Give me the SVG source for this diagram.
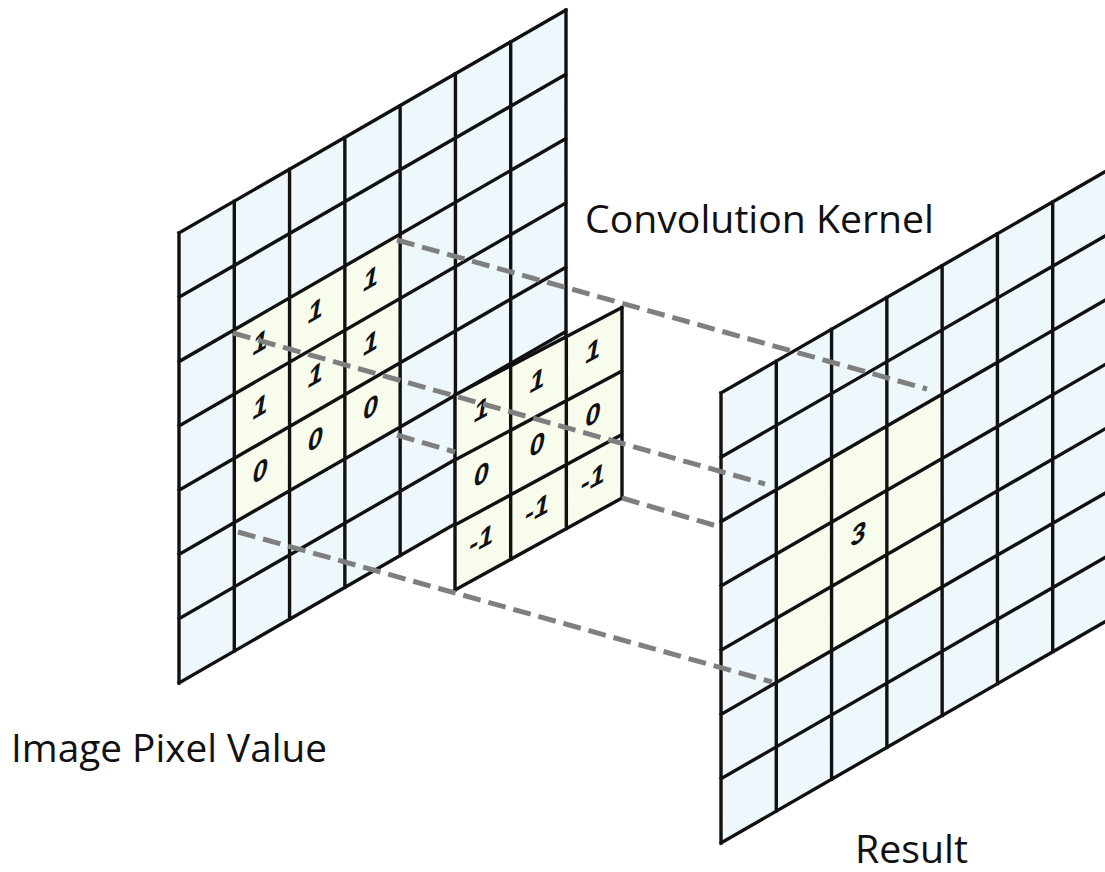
<svg xmlns="http://www.w3.org/2000/svg" width="1105" height="872" viewBox="0 0 1105 872">
<style>
.bg{fill:#ffffff}
.cell{fill:#EEF8FC}
.hl{fill:#F8FCEC}
.grid{fill:none;stroke:#111111;stroke-width:3.4;stroke-linejoin:miter;stroke-linecap:square}
.ns{vector-effect:non-scaling-stroke}
.dash{fill:none;stroke:#7F7F7F;stroke-width:5;stroke-dasharray:18 8}
.num{font-family:"Liberation Sans",Arial,sans-serif;font-size:27px;font-weight:bold;font-style:italic;fill:#111111;text-anchor:middle}
.label{font-family:"Open Sans","Noto Sans",sans-serif;font-size:38px;fill:#111111}
</style>
<defs>
<g id="grid7">
<rect class="cell" x="0" y="0" width="387" height="450"/>
<rect class="hl" x="55.286" y="128.571" width="165.857" height="192.857"/>
<path class="grid ns" d="M0,0V450M55.286,0V450M110.571,0V450M165.857,0V450M221.143,0V450M276.429,0V450M331.714,0V450M387,0V450M0,0H387M0,64.286H387M0,128.571H387M0,192.857H387M0,257.143H387M0,321.429H387M0,385.714H387M0,450H387"/>
</g>
</defs>
<rect class="bg" x="0" y="0" width="1105" height="872"/>

<g id="image-pixel-grid">
<use href="#grid7" transform="matrix(1 -0.5762 0 1 179 233)"/>
<text class="num" transform="translate(260,342) skewY(-30)" y="9.5">1</text>
<text class="num" transform="translate(315.2,310.1) skewY(-30)" y="9.5">1</text>
<text class="num" transform="translate(370.5,278.2) skewY(-30)" y="9.5">1</text>
<text class="num" transform="translate(260,406.2) skewY(-30)" y="9.5">1</text>
<text class="num" transform="translate(315.2,374.4) skewY(-30)" y="9.5">1</text>
<text class="num" transform="translate(370.5,342.5) skewY(-30)" y="9.5">1</text>
<text class="num" transform="translate(260,470.5) skewY(-30)" y="9.5">0</text>
<text class="num" transform="translate(315.2,438.6) skewY(-30)" y="9.5">0</text>
<text class="num" transform="translate(370.5,406.8) skewY(-30)" y="9.5">0</text>
</g>

<g id="convolution-kernel">
<polygon class="hl" points="455,395 622,307.5 622,498 455,590"/>
<path class="grid" d="M455,395L455,590M510.67,365.83L510.67,559.33M566.33,336.67L566.33,528.67M622,307.5L622,498M455,395L622,307.5M455,460L622,371M455,525L622,434.5M455,590L622,498"/>
<text class="num" transform="translate(481.3,409.3) skewY(-28)" y="9.5">1</text>
<text class="num" transform="translate(537,379.9) skewY(-28)" y="9.5">1</text>
<text class="num" transform="translate(592.7,350.5) skewY(-28)" y="9.5">1</text>
<text class="num" transform="translate(481.3,474) skewY(-28)" y="9.5">0</text>
<text class="num" transform="translate(537,444.1) skewY(-28)" y="9.5">0</text>
<text class="num" transform="translate(592.7,414.2) skewY(-28)" y="9.5">0</text>
<text class="num" transform="translate(481.3,538.8) skewY(-28)" y="9.5">-1</text>
<text class="num" transform="translate(537,508.4) skewY(-28)" y="9.5">-1</text>
<text class="num" transform="translate(592.7,478) skewY(-28)" y="9.5">-1</text>
</g>

<g id="result-grid">
<use href="#grid7" transform="matrix(1 -0.5762 0 1 721 393)"/>
<text class="num" transform="translate(858.2,533.4) skewY(-30)" y="9.5">3</text>
</g>

<g id="connectors">
<path class="dash" d="M397,240L927,389"/>
<path class="dash" d="M233,333L765,484"/>
<path class="dash" d="M397,435L455,452"/>
<path class="dash" d="M622,498L720,527"/>
<path class="dash" d="M238,532L772,682"/>
</g>

<g id="labels">
<text class="label" x="585" y="233" textLength="349" lengthAdjust="spacingAndGlyphs">Convolution Kernel</text>
<text class="label" x="11" y="762" textLength="316" lengthAdjust="spacingAndGlyphs">Image Pixel Value</text>
<text class="label" x="855" y="863" textLength="113" lengthAdjust="spacingAndGlyphs">Result</text>
</g>
</svg>
